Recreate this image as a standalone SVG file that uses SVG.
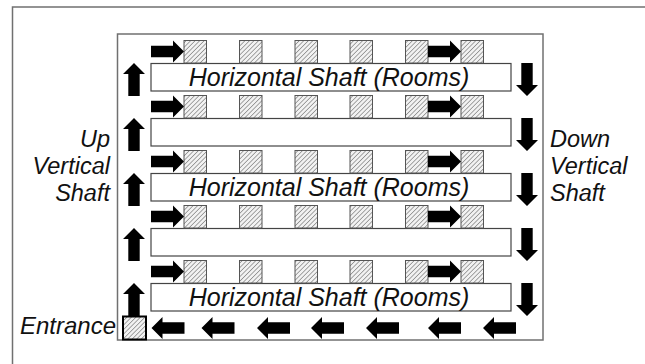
<svg xmlns="http://www.w3.org/2000/svg" xmlns:xlink="http://www.w3.org/1999/xlink" width="645" height="364" viewBox="0 0 645 364">
<style>
.frame{fill:none;stroke:#707070;stroke-width:1.5}
.shaft{fill:#fff;stroke:#444;stroke-width:1.2}
.room{fill:url(#hatch);stroke:#555;stroke-width:1}
.arrow{fill:#000}
.lbl{font-family:"Liberation Sans",Arial,sans-serif;font-style:italic;font-size:23.5px;fill:#111}
.stext{font-family:"Liberation Sans",Arial,sans-serif;font-style:italic;font-size:25px;fill:#111;text-anchor:middle}
</style>
<defs>
<pattern id="hatch" patternUnits="userSpaceOnUse" width="3.2" height="3.2" patternTransform="rotate(45)">
<rect width="3.2" height="3.2" fill="#f2f2f2"/>
<line x1="0" y1="0" x2="0" y2="3.2" stroke="#555" stroke-width="1"/>
</pattern>
<path id="ar" d="M0,0 L-11,-11 L-11,-5.7 L-33,-5.7 L-33,5.7 L-11,5.7 L-11,11 Z"/>
</defs>
<rect width="645" height="364" fill="#fff"/>
<g id="page"><rect class="frame" x="12.5" y="7" width="700" height="400"/></g>
<g id="building"><rect class="frame" x="117.5" y="34" width="425.5" height="306"/></g>

<g id="shaft1"><rect class="shaft" x="151" y="63.5" width="360" height="27.5"/><text class="stext" x="329" y="86">Horizontal Shaft (Rooms)</text></g>
<g id="shaft2"><rect class="shaft" x="151" y="118.5" width="360" height="27.5"/></g>
<g id="shaft3"><rect class="shaft" x="151" y="173.5" width="360" height="27.5"/><text class="stext" x="329" y="196">Horizontal Shaft (Rooms)</text></g>
<g id="shaft4"><rect class="shaft" x="151" y="228.5" width="360" height="27.5"/></g>
<g id="shaft5"><rect class="shaft" x="151" y="283.5" width="360" height="27.5"/><text class="stext" x="329" y="306">Horizontal Shaft (Rooms)</text></g>

<g id="rooms1"><rect class="room" x="184" y="40.5" width="22.5" height="22.5"/><rect class="room" x="239.5" y="40.5" width="22.5" height="22.5"/><rect class="room" x="295" y="40.5" width="22.5" height="22.5"/><rect class="room" x="350" y="40.5" width="22.5" height="22.5"/><rect class="room" x="405.5" y="40.5" width="22.5" height="22.5"/><rect class="room" x="461" y="40.5" width="22.5" height="22.5"/></g>
<g id="rooms2"><rect class="room" x="184" y="95.5" width="22.5" height="22.5"/><rect class="room" x="239.5" y="95.5" width="22.5" height="22.5"/><rect class="room" x="295" y="95.5" width="22.5" height="22.5"/><rect class="room" x="350" y="95.5" width="22.5" height="22.5"/><rect class="room" x="405.5" y="95.5" width="22.5" height="22.5"/><rect class="room" x="461" y="95.5" width="22.5" height="22.5"/></g>
<g id="rooms3"><rect class="room" x="184" y="150.5" width="22.5" height="22.5"/><rect class="room" x="239.5" y="150.5" width="22.5" height="22.5"/><rect class="room" x="295" y="150.5" width="22.5" height="22.5"/><rect class="room" x="350" y="150.5" width="22.5" height="22.5"/><rect class="room" x="405.5" y="150.5" width="22.5" height="22.5"/><rect class="room" x="461" y="150.5" width="22.5" height="22.5"/></g>
<g id="rooms4"><rect class="room" x="184" y="205.5" width="22.5" height="22.5"/><rect class="room" x="239.5" y="205.5" width="22.5" height="22.5"/><rect class="room" x="295" y="205.5" width="22.5" height="22.5"/><rect class="room" x="350" y="205.5" width="22.5" height="22.5"/><rect class="room" x="405.5" y="205.5" width="22.5" height="22.5"/><rect class="room" x="461" y="205.5" width="22.5" height="22.5"/></g>
<g id="rooms5"><rect class="room" x="184" y="260.5" width="22.5" height="22.5"/><rect class="room" x="239.5" y="260.5" width="22.5" height="22.5"/><rect class="room" x="295" y="260.5" width="22.5" height="22.5"/><rect class="room" x="350" y="260.5" width="22.5" height="22.5"/><rect class="room" x="405.5" y="260.5" width="22.5" height="22.5"/><rect class="room" x="461" y="260.5" width="22.5" height="22.5"/></g>

<g id="entrance"><rect x="123" y="316.5" width="23" height="23" fill="url(#hatch)" stroke="#000" stroke-width="2"/><text class="lbl" x="116" y="333.5" text-anchor="end" style="font-size:24px">Entrance</text></g>

<g id="upLabel"><text class="lbl" text-anchor="end"><tspan x="110" y="146.5">Up</tspan><tspan x="110" y="174">Vertical</tspan><tspan x="110" y="201">Shaft</tspan></text></g>
<g id="downLabel"><text class="lbl"><tspan x="550" y="146.5">Down</tspan><tspan x="550" y="174">Vertical</tspan><tspan x="550" y="201">Shaft</tspan></text></g>

<g id="connectors" class="arrow">
<use xlink:href="#ar" transform="translate(184,51.5)"/><use xlink:href="#ar" transform="translate(461,51.5)"/>
<use xlink:href="#ar" transform="translate(184,106.5)"/><use xlink:href="#ar" transform="translate(461,106.5)"/>
<use xlink:href="#ar" transform="translate(184,161.5)"/><use xlink:href="#ar" transform="translate(461,161.5)"/>
<use xlink:href="#ar" transform="translate(184,216.5)"/><use xlink:href="#ar" transform="translate(461,216.5)"/>
<use xlink:href="#ar" transform="translate(184,271.5)"/><use xlink:href="#ar" transform="translate(461,271.5)"/>
<use xlink:href="#ar" transform="translate(134,63) rotate(-90)"/>
<use xlink:href="#ar" transform="translate(134,118) rotate(-90)"/>
<use xlink:href="#ar" transform="translate(134,173) rotate(-90)"/>
<use xlink:href="#ar" transform="translate(134,228) rotate(-90)"/>
<use xlink:href="#ar" transform="translate(134,283) rotate(-90)"/>
<use xlink:href="#ar" transform="translate(527,96) rotate(90)"/>
<use xlink:href="#ar" transform="translate(527,151) rotate(90)"/>
<use xlink:href="#ar" transform="translate(527,206) rotate(90)"/>
<use xlink:href="#ar" transform="translate(527,261) rotate(90)"/>
<use xlink:href="#ar" transform="translate(527,316) rotate(90)"/>
<use xlink:href="#ar" transform="translate(151.5,328) rotate(180)"/>
<use xlink:href="#ar" transform="translate(201.5,328) rotate(180)"/>
<use xlink:href="#ar" transform="translate(257,328) rotate(180)"/>
<use xlink:href="#ar" transform="translate(311,328) rotate(180)"/>
<use xlink:href="#ar" transform="translate(366,328) rotate(180)"/>
<use xlink:href="#ar" transform="translate(428,328) rotate(180)"/>
<use xlink:href="#ar" transform="translate(483,328) rotate(180)"/>
</g>
</svg>
